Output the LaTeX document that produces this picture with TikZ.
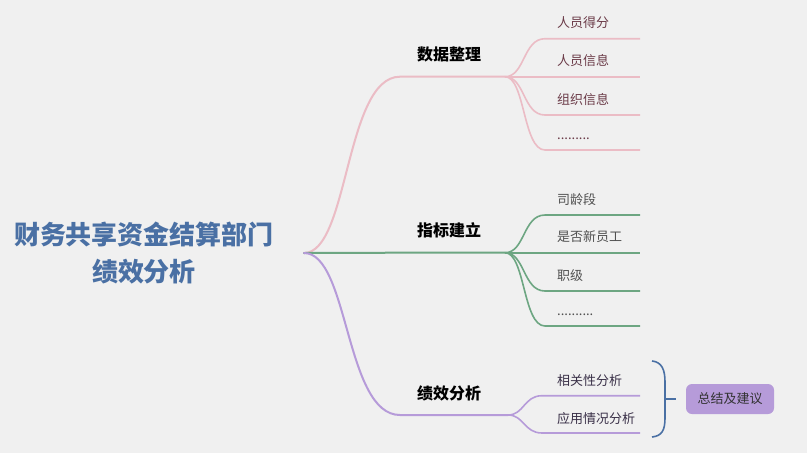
\documentclass[tikz,border=0pt]{standalone}
\usepackage{fontspec}
\newfontfamily\cjk{Noto Sans CJK SC}
\definecolor{mapBg}{HTML}{F0F0F0}
\definecolor{mapBlue}{HTML}{4A70A4}
\definecolor{mapPink}{HTML}{EBBCC5}
\definecolor{mapGreen}{HTML}{6DA682}
\definecolor{mapPurple}{HTML}{B69BD9}
\definecolor{txtPink}{HTML}{6B3B48}
\definecolor{txtGreen}{HTML}{505050}
\definecolor{txtPurple}{HTML}{3A3048}
\usetikzlibrary{positioning}
\newcommand\datadots{.........}
\newcommand\indexdots{..........}

\begin{document}
\begin{tikzpicture}[x=1pt, y=-1pt,
    rootlbl/.style={font=\cjk\bfseries\fontsize{26}{37}\selectfont, text=mapBlue,
                    align=center, inner sep=0pt},
    mainlbl/.style={font=\cjk\bfseries\fontsize{16}{18}\selectfont,
                    anchor=west, inner sep=0pt},
    sublbl/.style={font=\cjk\fontsize{13}{15}\selectfont, anchor=west,
                   inner sep=0pt, text height=11.5pt, text depth=1.5pt},
    branch/.style={line width=2pt, line cap=round},
    twig/.style={line width=1.6pt},
    sumbox/.style={rectangle, rounded corners=6pt, fill=mapPurple,
                   minimum width=88pt, minimum height=30pt,
                   font=\cjk\fontsize{13}{15}\selectfont, text=black!80}
  ]
  \fill[mapBg] (0,0) rectangle (807,453);
  \useasboundingbox (0,0) rectangle (807,453);

  % root
  \node[rootlbl] (root) at (144,253) {财务共享资金结算部门\\绩效分析};
  \coordinate (hub) at (304,253);

  % main branches
  \coordinate (data)  at (400,76.7);  \coordinate (dataE)  at (505,76.7);
  \coordinate (index) at (400,252.7); \coordinate (indexE) at (505,252.7);
  \coordinate (perf)  at (400,415);   \coordinate (perfE)  at (508,415);

  \draw[branch, mapPink]   (hub) .. controls +(45,0) and +(-55,0) .. (data) -- (dataE);
  \draw[branch, mapGreen]  (hub) -- (index) -- (indexE);
  \draw[branch, mapPurple] (hub) .. controls +(45,0) and +(-55,0) .. (perf) -- (perfE);

  \node[mainlbl] (data-t)  at (417,54.7)  {数据整理};
  \node[mainlbl] (index-t) at (417,230.7) {指标建立};
  \node[mainlbl] (perf-t)  at (417,393)   {绩效分析};

  % sub branches
  \foreach \i/\y/\t in {1/38.7/人员得分, 2/76.7/人员信息, 3/115/组织信息, 4/150/\datadots}{
    \coordinate (data-k\i) at (545,\y);
    \coordinate (data-\i) at (640,\y);
    \draw[twig, mapPink] (dataE) .. controls +(20,0) and +(-22,0) .. (data-k\i) -- (data-\i);
    \node[sublbl, text=txtPink] (data-t\i) at (557,\y-16) {\t};
  }
  \foreach \i/\y/\t in {1/215/司龄段, 2/252.7/是否新员工, 3/291/职级, 4/326/\indexdots}{
    \coordinate (index-k\i) at (545,\y);
    \coordinate (index-\i) at (640,\y);
    \draw[twig, mapGreen] (indexE) .. controls +(20,0) and +(-22,0) .. (index-k\i) -- (index-\i);
    \node[sublbl, text=txtGreen] (index-t\i) at (557,\y-16) {\t};
  }
  \foreach \i/\y/\t in {1/395.7/相关性分析, 2/433/应用情况分析}{
    \coordinate (perf-k\i) at (542,\y);
    \coordinate (perf-\i) at (640,\y);
    \draw[twig, mapPurple] (perfE) .. controls +(16,0) and +(-18,0) .. (perf-k\i) -- (perf-\i);
    \node[sublbl, text=txtPurple] (perf-t\i) at (557,\y-15) {\t};
  }

  % brace and summary
  \draw[mapBlue, line width=1.6pt] (652,361) .. controls (662,362) and (665,370) .. (665,382)
    -- (665,418) .. controls (665,430) and (662,436) .. (652,437);
  \coordinate (brace-tip) at (665,399);
  \node[sumbox] (summary) at (730,399) {总结及建议};
  \draw[mapBlue, line width=1.6pt] (brace-tip) -- +(11,0);
\end{tikzpicture}
\end{document}
